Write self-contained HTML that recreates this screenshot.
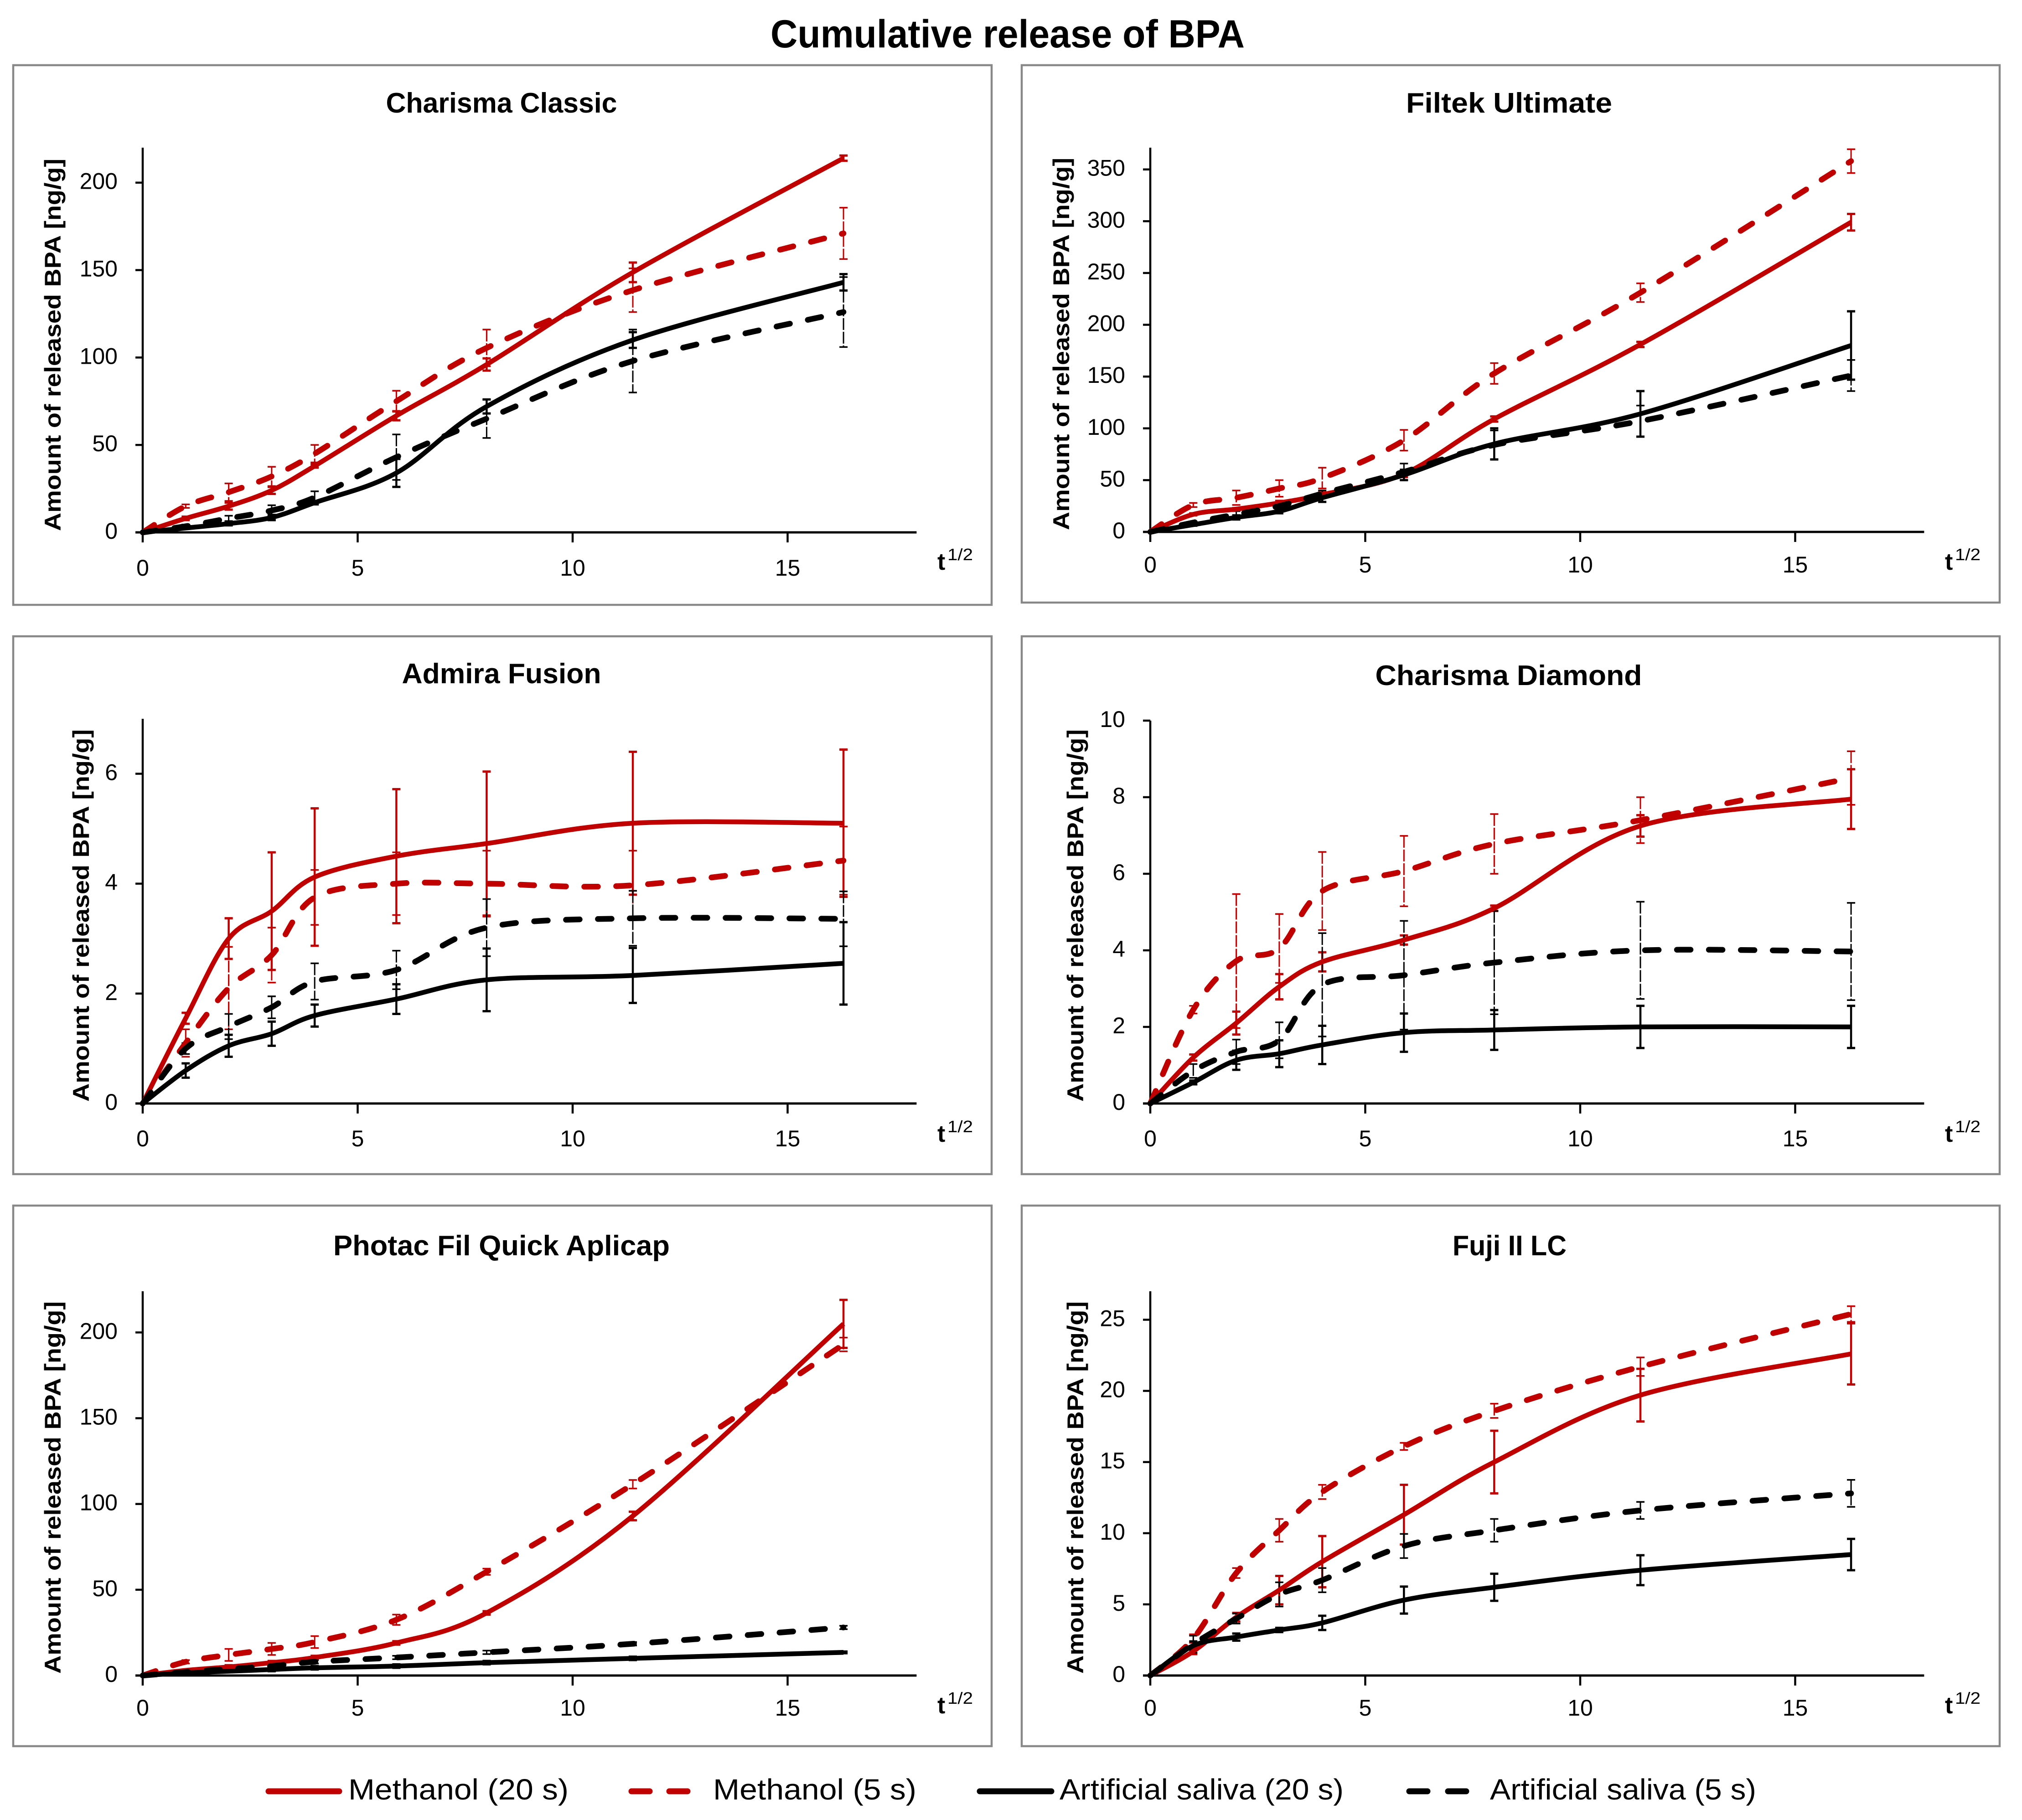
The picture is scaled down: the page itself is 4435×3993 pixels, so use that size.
<!DOCTYPE html>
<html lang="en">
<head>
<meta charset="utf-8">
<title>Cumulative release of BPA</title>
<style>
html,body{margin:0;padding:0;background:#fff}
svg{display:block}
text{font-family:"Liberation Sans",sans-serif;fill:#000}
.frame{fill:#fff;stroke:#888;stroke-width:4.5}
.main{font-size:86px;font-weight:700}
.ptitle{font-size:62px;font-weight:700;text-anchor:middle}
.ytitle{font-size:50px;font-weight:700}
.tick{font-size:50px}
.t{font-size:52px;font-weight:700}
.sup{font-size:36px}
.leg{font-size:64px}
</style>
</head>
<body>
<svg id="chart" xmlns="http://www.w3.org/2000/svg" width="4435" height="3993" viewBox="0 0 4435 3993">
<rect width="4435" height="3993" fill="#fff"/>
<text class="main" x="1690" y="104" textLength="1040" lengthAdjust="spacingAndGlyphs">Cumulative release of BPA</text>

<g id="p1">
<rect class="frame" x="29" y="143" width="2146" height="1184"/>
<text class="ptitle" x="1100" y="247" textLength="507" lengthAdjust="spacingAndGlyphs">Charisma Classic</text>
<text class="ytitle" transform="translate(133,1165) rotate(-90)" textLength="817" lengthAdjust="spacingAndGlyphs">Amount of released BPA [ng/g]</text>
<text class="t" x="2056" y="1250">t</text><text class="sup" x="2078" y="1229" textLength="56" lengthAdjust="spacingAndGlyphs">1/2</text>
</g>

<g id="p2">
<rect class="frame" x="2241" y="143" width="2145" height="1179"/>
<text class="ptitle" x="3310" y="247" textLength="452" lengthAdjust="spacingAndGlyphs">Filtek Ultimate</text>
<text class="ytitle" transform="translate(2345,1163) rotate(-90)" textLength="817" lengthAdjust="spacingAndGlyphs">Amount of released BPA [ng/g]</text>
<text class="t" x="4266" y="1250">t</text><text class="sup" x="4288" y="1229" textLength="56" lengthAdjust="spacingAndGlyphs">1/2</text>
</g>

<g id="p3">
<rect class="frame" x="29" y="1396" width="2146" height="1180"/>
<text class="ptitle" x="1100" y="1499" textLength="437" lengthAdjust="spacingAndGlyphs">Admira Fusion</text>
<text class="ytitle" transform="translate(195,2417) rotate(-90)" textLength="817" lengthAdjust="spacingAndGlyphs">Amount of released BPA [ng/g]</text>
<text class="t" x="2056" y="2505">t</text><text class="sup" x="2078" y="2484" textLength="56" lengthAdjust="spacingAndGlyphs">1/2</text>
</g>

<g id="p4">
<rect class="frame" x="2241" y="1396" width="2145" height="1180"/>
<text class="ptitle" x="3309" y="1503" textLength="585" lengthAdjust="spacingAndGlyphs">Charisma Diamond</text>
<text class="ytitle" transform="translate(2376,2417) rotate(-90)" textLength="817" lengthAdjust="spacingAndGlyphs">Amount of released BPA [ng/g]</text>
<text class="t" x="4266" y="2505">t</text><text class="sup" x="4288" y="2484" textLength="56" lengthAdjust="spacingAndGlyphs">1/2</text>
</g>

<g id="p5">
<rect class="frame" x="29" y="2645" width="2146" height="1186"/>
<text class="ptitle" x="1100" y="2754" textLength="738" lengthAdjust="spacingAndGlyphs">Photac Fil Quick Aplicap</text>
<text class="ytitle" transform="translate(133,3672) rotate(-90)" textLength="817" lengthAdjust="spacingAndGlyphs">Amount of released BPA [ng/g]</text>
<text class="t" x="2056" y="3759">t</text><text class="sup" x="2078" y="3738" textLength="56" lengthAdjust="spacingAndGlyphs">1/2</text>
</g>

<g id="p6">
<rect class="frame" x="2241" y="2645" width="2145" height="1186"/>
<text class="ptitle" x="3311" y="2754" textLength="250" lengthAdjust="spacingAndGlyphs">Fuji II LC</text>
<text class="ytitle" transform="translate(2376,3672) rotate(-90)" textLength="817" lengthAdjust="spacingAndGlyphs">Amount of released BPA [ng/g]</text>
<text class="t" x="4266" y="3759">t</text><text class="sup" x="4288" y="3738" textLength="56" lengthAdjust="spacingAndGlyphs">1/2</text>
</g>

<g>
<g>
<line x1="589" y1="3930" x2="744" y2="3930" stroke="#c00000" stroke-width="13" stroke-linecap="round"/>
<text class="leg" x="764" y="3948" textLength="483" lengthAdjust="spacingAndGlyphs">Methanol (20 s)</text>
</g>
<g>
<line x1="1385" y1="3930" x2="1425" y2="3930" stroke="#c00000" stroke-width="13" stroke-linecap="round"/>
<line x1="1468" y1="3930" x2="1508" y2="3930" stroke="#c00000" stroke-width="13" stroke-linecap="round"/>
<text class="leg" x="1564" y="3948" textLength="446" lengthAdjust="spacingAndGlyphs">Methanol (5 s)</text>
</g>
<g>
<line x1="2149" y1="3930" x2="2306" y2="3930" stroke="#000" stroke-width="13" stroke-linecap="round"/>
<text class="leg" x="2324" y="3948" textLength="623" lengthAdjust="spacingAndGlyphs">Artificial saliva (20 s)</text>
</g>
<g>
<line x1="3091" y1="3930" x2="3131" y2="3930" stroke="#000" stroke-width="13" stroke-linecap="round"/>
<line x1="3176" y1="3930" x2="3216" y2="3930" stroke="#000" stroke-width="13" stroke-linecap="round"/>
<text class="leg" x="3268" y="3948" textLength="584" lengthAdjust="spacingAndGlyphs">Artificial saliva (5 s)</text>
</g>
</g>
</svg>

<script>
// Shared x axis
const sqrtTime = [0, 1, 2, 3, 4, 5.9, 8, 11.4, 16.3];
const xTicks = [0, 5, 10, 15];
const xMax = 18;

// Charisma Classic
const classicYTicks = [0, 50, 100, 150, 200];
const classicMeth20 = [0, 8, 15, 24, 38, 66.7, 96, 148.7, 214];
const classicMeth20Err = [0, 1, 2, 2, 1, 2.6, 3.5, 5.6, 1.5];
const classicMeth5 = [0, 15, 23, 32, 45, 75, 105.5, 138.5, 171];
const classicMeth5Err = [0, 1, 5, 5.5, 5, 6, 10.5, 12.5, 14.7];
const classicSal20 = [0, 2.5, 5, 8.5, 17, 34, 72, 110, 143];
const classicSal20Err = [0, 0.5, 1, 1.5, 1, 8, 4, 4.5, 4.7];
const classicSal5 = [0, 3.5, 8, 12.5, 20, 43, 65, 98, 126];
const classicSal5Err = [0, 1, 1.5, 3, 3.5, 13, 11, 18, 20];

// Filtek Ultimate
const filtekYTicks = [0, 50, 100, 150, 200, 250, 300, 350];
const filtekMeth20 = [0, 17, 22, 28, 36, 56, 109, 181, 299];
const filtekMeth20Err = [0, 1, 1, 2, 2, 3, 2.5, 2.5, 8];
const filtekMeth5 = [0, 26, 33, 42, 52, 88.5, 153, 231, 358];
const filtekMeth5Err = [0, 2, 7, 8, 10, 10, 10, 9, 11.5];
const filtekSal20 = [0, 7, 14, 20, 33, 55, 85, 114, 180];
const filtekSal20Err = [0, 1, 2, 2, 4, 5, 15, 22, 33];
const filtekSal5 = [0, 9, 17, 25, 37, 58, 84, 107, 151];
const filtekSal5Err = [0, 1, 3, 3, 3, 8, 14, 15, 15];

// Admira Fusion
const admiraYTicks = [0, 2, 4, 6];
const admiraMeth20 = [0, 1.55, 3.0, 3.5, 4.12, 4.5, 4.73, 5.1, 5.1];
const admiraMeth20Err = [0, 0.1, 0.37, 1.07, 1.25, 1.22, 1.31, 1.3, 1.34];
const admiraMeth5 = [0, 1.1, 2.1, 2.7, 3.75, 4.0, 4.0, 3.97, 4.42];
const admiraMeth5Err = [0, 0.25, 0.75, 0.5, 0.5, 0.57, 0.6, 0.63, 0.62];
const admiraSal20 = [0, 0.6, 1.05, 1.27, 1.6, 1.9, 2.25, 2.33, 2.55];
const admiraSal20Err = [0, 0.13, 0.2, 0.22, 0.2, 0.27, 0.57, 0.5, 0.75];
const admiraSal5 = [0, 1.0, 1.4, 1.75, 2.22, 2.43, 3.2, 3.37, 3.36];
const admiraSal5Err = [0, 0.1, 0.23, 0.2, 0.33, 0.35, 0.52, 0.5, 0.5];

// Charisma Diamond
const diamondYTicks = [0, 2, 4, 6, 8, 10];
const diamondMeth20 = [0, 1.2, 2.1, 3.05, 3.7, 4.27, 5.1, 7.25, 7.95];
const diamondMeth20Err = [0, 0.08, 0.3, 0.33, 0.25, 0.12, 0.07, 0.28, 0.78];
const diamondMeth5 = [0, 2.45, 3.72, 4.05, 5.55, 6.07, 6.78, 7.4, 8.5];
const diamondMeth5Err = [0, 0.1, 1.75, 0.9, 1.02, 0.92, 0.78, 0.6, 0.7];
const diamondSal20 = [0, 0.55, 1.13, 1.3, 1.53, 1.85, 1.92, 2.0, 2.0];
const diamondSal20Err = [0, 0.05, 0.25, 0.35, 0.5, 0.5, 0.52, 0.55, 0.55];
const diamondSal5 = [0, 0.85, 1.35, 1.65, 3.1, 3.35, 3.68, 4.0, 3.97];
const diamondSal5Err = [0, 0.18, 0.32, 0.47, 1.35, 1.42, 1.35, 1.27, 1.27];

// Photac Fil Quick Aplicap
const photacYTicks = [0, 50, 100, 150, 200];
const photacMeth20 = [0, 3, 5, 7.5, 10.5, 19, 36.5, 93, 205];
const photacMeth20Err = [0, 0.5, 1, 1, 1, 1, 1, 2.5, 14];
const photacMeth5 = [0, 8, 12, 15.5, 19.5, 32.5, 60.5, 111.5, 193];
const photacMeth5Err = [0, 1, 3.5, 3.5, 3.5, 3, 1.8, 2.5, 4];
const photacSal20 = [0, 1.5, 2.5, 3.5, 4.5, 5.5, 7.5, 10, 13.5];
const photacSal20Err = [0, 0.5, 0.5, 1, 1, 1, 1, 1, 0.5];
const photacSal5 = [0, 2, 3.8, 5.5, 8, 10.5, 13.5, 18.5, 28];
const photacSal5Err = [0, 0.5, 1, 1, 1, 1, 1, 1, 1];

// Fuji II LC
const fujiYTicks = [0, 5, 10, 15, 20, 25];
const fujiMeth20 = [0, 1.7, 4.1, 6, 8, 11.3, 15, 19.7, 22.6];
const fujiMeth20Err = [0, 0.2, 0.3, 1, 1.8, 2.1, 2.2, 1.85, 2.15];
const fujiMeth5 = [0, 2.6, 7.2, 10.2, 12.9, 16.1, 18.6, 21.7, 25.4];
const fujiMeth5Err = [0, 0.3, 0.35, 0.8, 0.5, 0.25, 0.5, 0.65, 0.55];
const fujiSal20 = [0, 2.1, 2.7, 3.2, 3.7, 5.3, 6.2, 7.4, 8.5];
const fujiSal20Err = [0, 0.3, 0.25, 0.15, 0.5, 0.95, 0.95, 1.05, 1.1];
const fujiSal5 = [0, 2.2, 4.0, 5.7, 6.7, 9.1, 10.2, 11.6, 12.8];
const fujiSal5Err = [0, 0.6, 0.35, 0.85, 0.85, 0.85, 0.8, 0.6, 0.95];

const NS = 'http://www.w3.org/2000/svg';
const RED = '#c00000';
const BLACK = '#000000';

function make(tag, parent, attrs) {
  const el = document.createElementNS(NS, tag);
  for (const k in attrs) el.setAttribute(k, attrs[k]);
  parent.appendChild(el);
  return el;
}

function smoothPath(pts) {
  let d = 'M' + pts[0][0].toFixed(1) + ' ' + pts[0][1].toFixed(1);
  for (let i = 0; i < pts.length - 1; i++) {
    const p0 = pts[Math.max(i - 1, 0)], p1 = pts[i], p2 = pts[i + 1], p3 = pts[Math.min(i + 2, pts.length - 1)];
    const c1x = p1[0] + (p2[0] - p0[0]) / 6, c1y = p1[1] + (p2[1] - p0[1]) / 6;
    const c2x = p2[0] - (p3[0] - p1[0]) / 6, c2y = p2[1] - (p3[1] - p1[1]) / 6;
    d += 'C' + c1x.toFixed(1) + ' ' + c1y.toFixed(1) + ' ' + c2x.toFixed(1) + ' ' + c2y.toFixed(1) + ' ' + p2[0].toFixed(1) + ' ' + p2[1].toFixed(1);
  }
  return d;
}

function drawAxes(panel, sx, sy, cfg, yTicks) {
  const g = panel.g;
  const yAxis = make('line', g, { x1: cfg.x0, x2: cfg.x0, y1: cfg.top, y2: cfg.y0 + 22, stroke: BLACK, 'stroke-width': 4.5 });
  
  
  const xAxis = make('line', g, { x1: cfg.x0 - 16, x2: sx(xMax), y1: cfg.y0, y2: cfg.y0, stroke: BLACK, 'stroke-width': 5 });
  
  
  yTicks.forEach(function (v) {
    const y = sy(v);
    if (v !== 0) {
      const tick = make('line', g, { x1: cfg.x0 - 16, x2: cfg.x0, y1: y, y2: y, stroke: BLACK, 'stroke-width': 4.5 });
      
      
    }
    const label = make('text', g, { class: 'tick', x: cfg.x0 - 55, y: y + 14, 'text-anchor': 'end' });
    
    
    label.textContent = v;
  });
  xTicks.forEach(function (v) {
    const x = sx(v);
    if (v !== 0) {
      const tick = make('line', g, { x1: x, x2: x, y1: cfg.y0, y2: cfg.y0 + 22, stroke: BLACK, 'stroke-width': 4.5 });
      
      
    }
    const label = make('text', g, { class: 'tick', x: x, y: cfg.y0 + cfg.labelDrop, 'text-anchor': 'middle' });
    
    
    label.textContent = v;
  });
}

function drawErrors(panel, sx, sy, values, errors, color, dashed) {
  const g = make('g', panel.g, {});
  
  
  values.forEach(function (v, i) {
    if (errors[i] === 0) return;
    const x = sx(sqrtTime[i]);
    const yHi = sy(v + errors[i]), yLo = sy(v - errors[i]);
    const attrs = { x1: x, x2: x, y1: yHi, y2: yLo, stroke: color, 'stroke-width': dashed ? 3 : 4.5 };
    if (dashed) attrs['stroke-dasharray'] = '26 4';
    const bar = make('line', g, attrs);
    
    
    [yHi, yLo].forEach(function (y) {
      const cap = make('line', g, { x1: x - 9, x2: x + 9, y1: y, y2: y, stroke: color, 'stroke-width': dashed ? 3.5 : 5 });
      
      
    });
  });
}

function drawSeries(panel, sx, sy, values, color, dashed, name) {
  const pts = values.map(function (v, i) { return [sx(sqrtTime[i]), sy(v)]; });
  const attrs = { d: smoothPath(pts), fill: 'none', stroke: color, 'stroke-width': dashed ? 12.5 : 10.5, 'stroke-linejoin': 'round' };
  if (dashed) {
    attrs['stroke-dasharray'] = '30 40';
    attrs['stroke-linecap'] = 'round';
  }
  const path = make('path', panel.g, attrs);
  
  
}

function drawPanel(cfg, yTicks, meth20, meth20Err, meth5, meth5Err, sal20, sal20Err, sal5, sal5Err) {
  const panel = { g: document.getElementById(cfg.id) };
  const sx = function (v) { return cfg.x0 + v * 94.3; };
  const sy = function (v) { return cfg.y0 - v * (cfg.y0 - cfg.top) / cfg.yMax; };
  drawAxes(panel, sx, sy, cfg, yTicks);
  drawErrors(panel, sx, sy, meth20, meth20Err, RED, false);
  drawErrors(panel, sx, sy, meth5, meth5Err, RED, true);
  drawErrors(panel, sx, sy, sal20, sal20Err, BLACK, false);
  drawErrors(panel, sx, sy, sal5, sal5Err, BLACK, true);
  drawSeries(panel, sx, sy, meth20, RED, false, 'series-methanol-20s');
  drawSeries(panel, sx, sy, meth5, RED, true, 'series-methanol-5s');
  drawSeries(panel, sx, sy, sal20, BLACK, false, 'series-artificial-saliva-20s');
  drawSeries(panel, sx, sy, sal5, BLACK, true, 'series-artificial-saliva-5s');
}

drawPanel({ id: 'p1', x0: 313, y0: 1168, top: 324, yMax: 220, labelDrop: 95 }, classicYTicks,
  classicMeth20, classicMeth20Err, classicMeth5, classicMeth5Err, classicSal20, classicSal20Err, classicSal5, classicSal5Err);
drawPanel({ id: 'p2', x0: 2523, y0: 1167, top: 324, yMax: 371, labelDrop: 89 }, filtekYTicks,
  filtekMeth20, filtekMeth20Err, filtekMeth5, filtekMeth5Err, filtekSal20, filtekSal20Err, filtekSal5, filtekSal5Err);
drawPanel({ id: 'p3', x0: 313, y0: 2421, top: 1577, yMax: 7, labelDrop: 94 }, admiraYTicks,
  admiraMeth20, admiraMeth20Err, admiraMeth5, admiraMeth5Err, admiraSal20, admiraSal20Err, admiraSal5, admiraSal5Err);
drawPanel({ id: 'p4', x0: 2523, y0: 2421, top: 1581, yMax: 10, labelDrop: 94 }, diamondYTicks,
  diamondMeth20, diamondMeth20Err, diamondMeth5, diamondMeth5Err, diamondSal20, diamondSal20Err, diamondSal5, diamondSal5Err);
drawPanel({ id: 'p5', x0: 313, y0: 3676, top: 2833, yMax: 224, labelDrop: 88 }, photacYTicks,
  photacMeth20, photacMeth20Err, photacMeth5, photacMeth5Err, photacSal20, photacSal20Err, photacSal5, photacSal5Err);
drawPanel({ id: 'p6', x0: 2523, y0: 3676, top: 2833, yMax: 27, labelDrop: 88 }, fujiYTicks,
  fujiMeth20, fujiMeth20Err, fujiMeth5, fujiMeth5Err, fujiSal20, fujiSal20Err, fujiSal5, fujiSal5Err);
</script>
</body>
</html>
